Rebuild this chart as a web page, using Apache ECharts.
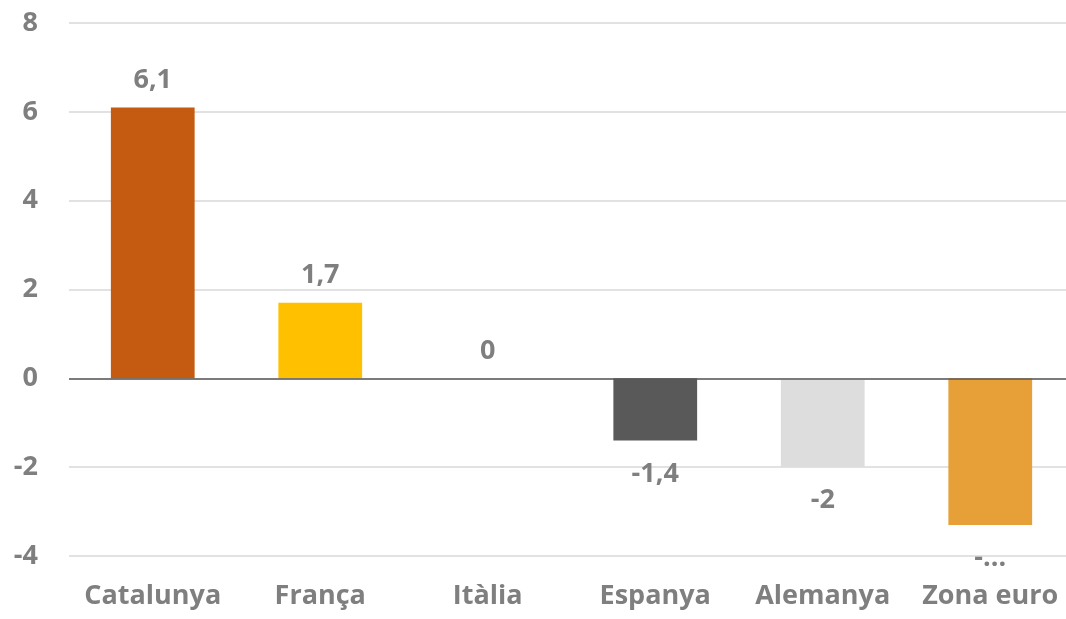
<!DOCTYPE html>
<html>
<head>
<meta charset="utf-8">
<style>
  html, body { margin: 0; padding: 0; background: #fff; }
  #chart { width: 1066px; height: 619px; }
</style>
<script src="https://cdn.jsdelivr.net/npm/echarts@6/dist/echarts.min.js"></script>
</head>
<body>
<div id="chart"></div>
<script>
// --- Data ---
const categories = ['Catalunya', 'França', 'Itàlia', 'Espanya', 'Alemanya', 'Zona euro'];
const values = [6.1, 1.7, 0, -1.4, -2, -3.3];
const valueLabels = ['6,1', '1,7', '0', '-1,4', '-2', '-...'];
const barColors = ['#C55A11', '#FFC000', '#A5A5A5', '#595959', '#DDDDDD', '#E6A037'];

const textColor = '#7F7F7F';
const font = 'Open Sans';

const chart = echarts.init(document.getElementById('chart'));

// negative bars get their label underneath
const seriesData = values.map((v, i) => ({
    value: v,
    itemStyle: { color: barColors[i] },
    label: v < 0 ? { position: 'bottom', distance: 20 } : { position: 'top', distance: 14 }
}));

chart.setOption({
    animation: false,
    // plot band runs a little past the right edge, like the original
    grid: { left: 69, top: 23, bottom: 63, width: 1005, outerBoundsMode: 'none', containLabel: false },
    xAxis: {
        type: 'category',
        data: categories,
        axisTick: { show: false },
        axisLine: { show: false },
        axisLabel: {
            color: textColor, fontFamily: font, fontWeight: 'bold', fontSize: 27,
            margin: 27, interval: 0
        }
    },
    yAxis: {
        type: 'value',
        min: -4, max: 8, interval: 2,
        axisLine: { show: false },
        axisTick: { show: false },
        axisLabel: {
            color: textColor, fontFamily: font, fontWeight: 'bold', fontSize: 27,
            margin: 31
        },
        splitLine: { lineStyle: { color: '#D9D9D9', width: 1.5 } }
    },
    series: [{
        type: 'bar',
        data: seriesData,
        barWidth: '50%',
        label: {
            show: true,
            color: textColor, fontFamily: font, fontWeight: 'bold', fontSize: 27,
            formatter: (p) => valueLabels[p.dataIndex]
        },
        markLine: {
            silent: true,
            symbol: 'none',
            label: { show: false },
            lineStyle: { color: '#595959', type: 'solid', width: 1.5 },
            data: [{ yAxis: 0 }]
        }
    }]
});

window.addEventListener('resize', () => chart.resize());
</script>
</body>
</html>
